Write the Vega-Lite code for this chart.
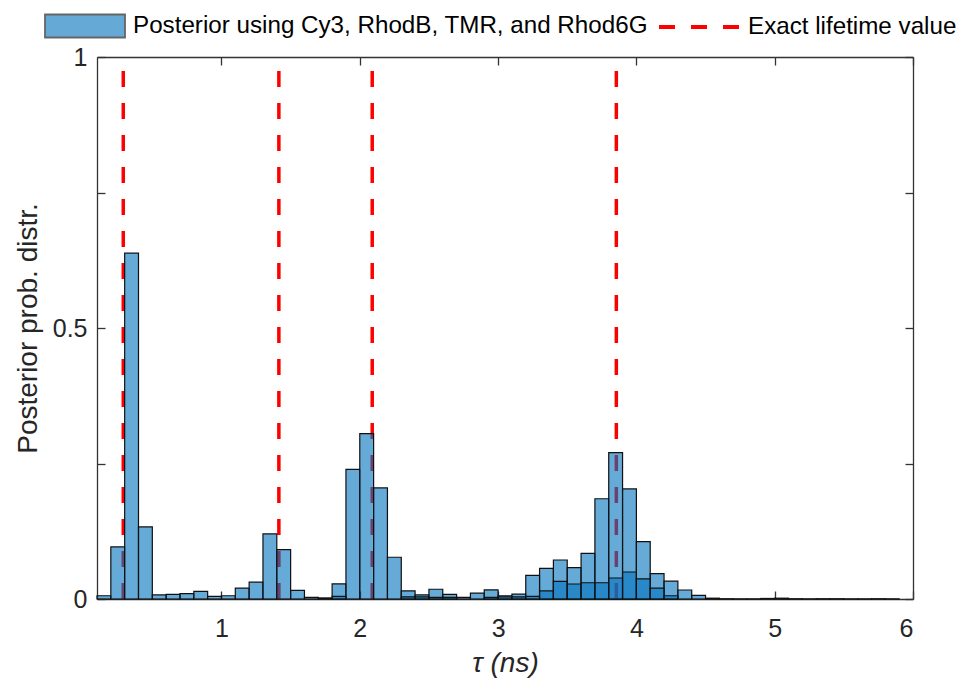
{
  "$schema": "https://vega.github.io/schema/vega-lite/v6.json",
  "autosize": {"type": "none"},
  "width": 816,
  "height": 542,
  "padding": {"left": 97, "top": 57, "right": 43, "bottom": 79},
  "background": "white",
  "config": {
    "view": {"stroke": null},
    "font": "Liberation Sans",
    "axis": {
      "labelFont": "Liberation Sans",
      "titleFont": "Liberation Sans",
      "labelColor": "#262626",
      "titleColor": "#262626",
      "domainColor": "#333333",
      "domainWidth": 1.3,
      "tickColor": "#333333",
      "tickWidth": 1.3,
      "tickSize": -8,
      "grid": false,
      "labelFontSize": 25,
      "titleFontSize": 28,
      "titleFontWeight": "normal"
    },
    "legend": {"labelFont": "Liberation Sans", "labelColor": "#000000", "padding": 0, "labelLimit": 900}
  },
  "datasets": {
    "bars": [
      {"start": 0.1, "end": 0.2, "p": 0.006, "series": "A"},
      {"start": 0.2, "end": 0.3, "p": 0.096, "series": "A"},
      {"start": 0.3, "end": 0.4, "p": 0.638, "series": "A"},
      {"start": 0.4, "end": 0.5, "p": 0.133, "series": "A"},
      {"start": 0.5, "end": 0.6, "p": 0.0075, "series": "A"},
      {"start": 0.6, "end": 0.7, "p": 0.0085, "series": "A"},
      {"start": 0.7, "end": 0.8, "p": 0.010, "series": "A"},
      {"start": 0.8, "end": 0.9, "p": 0.014, "series": "A"},
      {"start": 0.9, "end": 1.0, "p": 0.005, "series": "A"},
      {"start": 1.0, "end": 1.1, "p": 0.006, "series": "A"},
      {"start": 1.1, "end": 1.2, "p": 0.020, "series": "A"},
      {"start": 1.2, "end": 1.3, "p": 0.031, "series": "A"},
      {"start": 1.3, "end": 1.4, "p": 0.120, "series": "A"},
      {"start": 1.4, "end": 1.5, "p": 0.091, "series": "A"},
      {"start": 1.5, "end": 1.6, "p": 0.016, "series": "A"},
      {"start": 1.6, "end": 1.7, "p": 0.003, "series": "A"},
      {"start": 1.7, "end": 1.8, "p": 0.002, "series": "A"},
      {"start": 1.8, "end": 1.9, "p": 0.028, "series": "A"},
      {"start": 1.9, "end": 2.0, "p": 0.239, "series": "A"},
      {"start": 2.0, "end": 2.1, "p": 0.305, "series": "A"},
      {"start": 2.1, "end": 2.2, "p": 0.205, "series": "A"},
      {"start": 2.2, "end": 2.3, "p": 0.077, "series": "A"},
      {"start": 2.3, "end": 2.4, "p": 0.015, "series": "A"},
      {"start": 2.4, "end": 2.5, "p": 0.0075, "series": "A"},
      {"start": 2.5, "end": 2.6, "p": 0.018, "series": "A"},
      {"start": 2.6, "end": 2.7, "p": 0.0085, "series": "A"},
      {"start": 2.7, "end": 2.8, "p": 0.003, "series": "A"},
      {"start": 2.8, "end": 2.9, "p": 0.011, "series": "A"},
      {"start": 2.9, "end": 3.0, "p": 0.017, "series": "A"},
      {"start": 3.0, "end": 3.1, "p": 0.006, "series": "A"},
      {"start": 3.1, "end": 3.2, "p": 0.009, "series": "A"},
      {"start": 3.2, "end": 3.3, "p": 0.0435, "series": "A"},
      {"start": 3.3, "end": 3.4, "p": 0.0565, "series": "A"},
      {"start": 3.4, "end": 3.5, "p": 0.072, "series": "A"},
      {"start": 3.5, "end": 3.6, "p": 0.058, "series": "A"},
      {"start": 3.6, "end": 3.7, "p": 0.084, "series": "A"},
      {"start": 3.7, "end": 3.8, "p": 0.185, "series": "A"},
      {"start": 3.8, "end": 3.9, "p": 0.270, "series": "A"},
      {"start": 3.9, "end": 4.0, "p": 0.203, "series": "A"},
      {"start": 4.0, "end": 4.1, "p": 0.106, "series": "A"},
      {"start": 4.1, "end": 4.2, "p": 0.047, "series": "A"},
      {"start": 4.2, "end": 4.3, "p": 0.033, "series": "A"},
      {"start": 4.3, "end": 4.4, "p": 0.0166, "series": "A"},
      {"start": 4.4, "end": 4.5, "p": 0.0066, "series": "A"},
      {"start": 4.5, "end": 4.6, "p": 0.0015, "series": "A"},
      {"start": 4.6, "end": 4.7, "p": 0.0005, "series": "A"},
      {"start": 4.7, "end": 4.8, "p": 0.0003, "series": "A"},
      {"start": 4.8, "end": 4.9, "p": 0.0003, "series": "A"},
      {"start": 4.9, "end": 5.0, "p": 0.001, "series": "A"},
      {"start": 5.0, "end": 5.1, "p": 0.0015, "series": "A"},
      {"start": 5.1, "end": 5.2, "p": 0.0005, "series": "A"},
      {"start": 5.2, "end": 5.3, "p": 0.0003, "series": "A"},
      {"start": 5.3, "end": 5.4, "p": 0.0005, "series": "A"},
      {"start": 5.4, "end": 5.5, "p": 0.0005, "series": "A"},
      {"start": 5.5, "end": 5.6, "p": 0.0003, "series": "A"},
      {"start": 5.6, "end": 5.7, "p": 0.0003, "series": "A"},
      {"start": 5.7, "end": 5.8, "p": 0.0005, "series": "A"},
      {"start": 5.8, "end": 5.9, "p": 0.0003, "series": "A"},
      {"start": 1.8, "end": 1.9, "p": 0.005, "series": "B"},
      {"start": 2.3, "end": 2.4, "p": 0.004, "series": "B"},
      {"start": 2.4, "end": 2.5, "p": 0.004, "series": "B"},
      {"start": 2.5, "end": 2.6, "p": 0.003, "series": "B"},
      {"start": 2.6, "end": 2.7, "p": 0.003, "series": "B"},
      {"start": 2.9, "end": 3.0, "p": 0.003, "series": "B"},
      {"start": 3.0, "end": 3.1, "p": 0.004, "series": "B"},
      {"start": 3.1, "end": 3.2, "p": 0.004, "series": "B"},
      {"start": 3.2, "end": 3.3, "p": 0.005, "series": "B"},
      {"start": 3.3, "end": 3.4, "p": 0.015, "series": "B"},
      {"start": 3.4, "end": 3.5, "p": 0.0325, "series": "B"},
      {"start": 3.5, "end": 3.6, "p": 0.0277, "series": "B"},
      {"start": 3.6, "end": 3.7, "p": 0.030, "series": "B"},
      {"start": 3.7, "end": 3.8, "p": 0.030, "series": "B"},
      {"start": 3.8, "end": 3.9, "p": 0.0387, "series": "B"},
      {"start": 3.9, "end": 4.0, "p": 0.0498, "series": "B"},
      {"start": 4.0, "end": 4.1, "p": 0.037, "series": "B"},
      {"start": 4.1, "end": 4.2, "p": 0.020, "series": "B"},
      {"start": 4.2, "end": 4.3, "p": 0.006, "series": "B"}
    ],
    "lifetimes": [
      {"dye": "Cy3", "tau": 0.29},
      {"dye": "RhodB", "tau": 1.415},
      {"dye": "TMR", "tau": 2.09},
      {"dye": "Rhod6G", "tau": 3.855}
    ]
  },
  "resolve": {"axis": {"x": "independent", "y": "independent"}},
  "layer": [
    {
      "data": {"name": "lifetimes"},
      "mark": {"type": "rule", "strokeWidth": 3.5, "strokeDash": [16, 16]},
      "encoding": {
        "x": {
          "field": "tau", "type": "quantitative",
          "scale": {"domain": [0.1, 6], "nice": false, "zero": false},
          "axis": {"orient": "top", "values": [1, 2, 3, 4, 5, 6], "labels": false, "title": null}
        },
        "y": {
          "datum": 0, "type": "quantitative",
          "scale": {"domain": [0, 1], "nice": false},
          "axis": {"orient": "right", "values": [0, 0.25, 0.5, 0.75, 1], "labels": false, "title": null}
        },
        "y2": {"datum": 1},
        "stroke": {
          "datum": "Exact lifetime value",
          "scale": {"range": ["#FF0000"]},
          "legend": {
            "orient": "none", "legendX": 560, "legendY": -72,
            "title": null, "symbolType": "stroke", "symbolSize": 6400,
            "symbolStrokeWidth": 4, "symbolDash": [16, 16],
            "labelFontSize": 24.2, "labelOffset": 7
          }
        }
      }
    },
    {
      "data": {"name": "bars"},
      "mark": {"type": "bar", "fillOpacity": 0.6, "stroke": "#111111", "strokeWidth": 1.2},
      "encoding": {
        "x": {
          "field": "start", "type": "quantitative",
          "scale": {"domain": [0.1, 6], "nice": false, "zero": false},
          "axis": {"orient": "bottom", "values": [1, 2, 3, 4, 5, 6], "labelPadding": 25, "title": "τ (ns)", "titleFontStyle": "italic", "titlePadding": 8}
        },
        "x2": {"field": "end"},
        "y": {
          "field": "p", "type": "quantitative",
          "scale": {"domain": [0, 1], "nice": false},
          "axis": {"orient": "left", "values": [0, 0.25, 0.5, 0.75, 1], "labelPadding": 18,
                   "labelExpr": "datum.value == 0.25 || datum.value == 0.75 ? '' : format(datum.value, '~g')",
                   "title": "Posterior prob. distr.", "titlePadding": 10}
        },
        "y2": {"datum": 0},
        "order": {"field": "series"},
        "fill": {
          "datum": "Posterior using Cy3, RhodB, TMR, and Rhod6G",
          "scale": {"range": ["#0072BD"]},
          "legend": {
            "orient": "none", "legendX": -53, "legendY": -72,
            "title": null,
            "symbolType": "M-1,-0.2875L1,-0.2875L1,0.2875L-1,0.2875Z",
            "symbolSize": 6400, "labelFontSize": 24.2, "labelOffset": 7,
            "symbolOpacity": 0.6, "symbolStrokeColor": "#000000", "symbolStrokeWidth": 1.8
          }
        }
      }
    }
  ]
}
